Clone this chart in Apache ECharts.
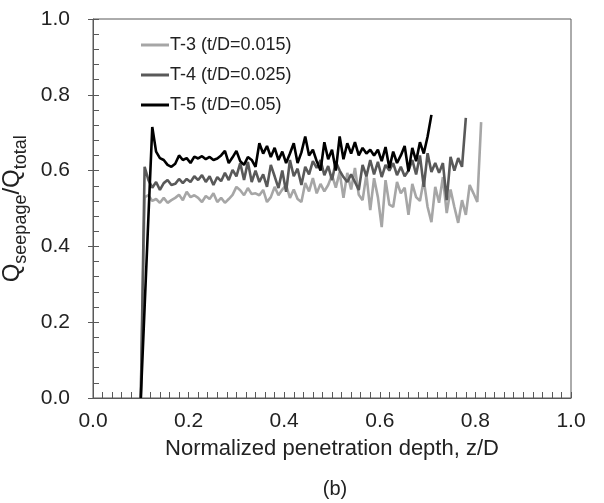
<!DOCTYPE html>
<html>
<head>
<meta charset="utf-8">
<script src="https://cdn.jsdelivr.net/npm/echarts@6/dist/echarts.min.js"></script>
<style>
  html, body { margin: 0; padding: 0; background: #fff; }
  #chart { width: 604px; height: 503px; }
</style>
</head>
<body>
<div id="chart"></div>
<script>
// depth grid shared by all three records (z/D)
const depthStart = 0.1;
const depthStep = 0.008;

const seriesNames = ['T-3 (t/D=0.015)', 'T-4 (t/D=0.025)', 'T-5 (t/D=0.05)'];
const seriesColors = ['#a6a6a6', '#595959', '#000000'];

// Q_seepage / Q_total
const t3Values = [
  0, 0.53, 0.535, 0.52, 0.525, 0.515, 0.528, 0.515, 0.522, 0.528,
  0.536, 0.522, 0.544, 0.53, 0.535, 0.528, 0.517, 0.533, 0.525, 0.54,
  0.517, 0.528, 0.515, 0.525, 0.536, 0.557, 0.548, 0.535, 0.554, 0.538,
  0.54, 0.535, 0.549, 0.517, 0.53, 0.557, 0.535, 0.55, 0.562, 0.528,
  0.55, 0.525, 0.517, 0.567, 0.545, 0.58, 0.54, 0.565, 0.545, 0.562,
  0.588, 0.555, 0.596, 0.528, 0.594, 0.55, 0.607, 0.536, 0.522, 0.59,
  0.496, 0.58, 0.53, 0.451, 0.575, 0.51, 0.504, 0.57, 0.54, 0.555,
  0.483, 0.565, 0.53, 0.52, 0.575, 0.504, 0.464, 0.557, 0.515, 0.583,
  0.488, 0.55, 0.504, 0.462, 0.522, 0.483, 0.562, 0.54, 0.517, 0.728
];

const t4Values = [
  0, 0.61, 0.575, 0.555, 0.57, 0.549, 0.567, 0.575, 0.562, 0.565,
  0.578, 0.567, 0.578, 0.57, 0.585, 0.575, 0.588, 0.57, 0.585, 0.562,
  0.583, 0.572, 0.594, 0.575, 0.602, 0.585, 0.62, 0.575, 0.623, 0.57,
  0.6, 0.57, 0.59, 0.557, 0.615, 0.585, 0.554, 0.6, 0.544, 0.628,
  0.585, 0.605, 0.562, 0.61, 0.59, 0.625, 0.607, 0.628, 0.588, 0.612,
  0.575, 0.623, 0.6, 0.583, 0.57, 0.59, 0.57, 0.549, 0.615, 0.585,
  0.628, 0.59, 0.623, 0.583, 0.615, 0.6, 0.62, 0.588, 0.61, 0.585,
  0.6, 0.628, 0.59, 0.64, 0.557, 0.646, 0.596, 0.62, 0.594, 0.62,
  0.522, 0.636, 0.6, 0.633, 0.61, 0.739
];

const t5Values = [
  0, 0.24, 0.48, 0.715, 0.65, 0.633, 0.628, 0.615, 0.61, 0.618,
  0.64, 0.628, 0.633, 0.62, 0.637, 0.632, 0.638, 0.63, 0.636, 0.628,
  0.632, 0.64, 0.652, 0.62, 0.635, 0.652, 0.625, 0.615, 0.636, 0.628,
  0.61, 0.672, 0.645, 0.665, 0.636, 0.66, 0.628, 0.65, 0.62, 0.645,
  0.672, 0.62, 0.648, 0.69, 0.64, 0.655, 0.625, 0.6, 0.675, 0.63,
  0.655, 0.6, 0.69, 0.63, 0.672, 0.645, 0.675, 0.64, 0.66, 0.645,
  0.655, 0.64, 0.655, 0.625, 0.662, 0.607, 0.65, 0.62, 0.64, 0.665,
  0.598, 0.66, 0.625, 0.675, 0.645, 0.69, 0.747
];

const axisTicks = [0, 0.2, 0.4, 0.6, 0.8, 1.0];

function toPairs(values) {
  return values.map((v, i) => [+(depthStart + i * depthStep).toFixed(3), v]);
}

const font = 'Liberation Sans, Arial, sans-serif';
const axisColor = '#595959';

const chart = echarts.init(document.getElementById('chart'), null, { renderer: 'canvas' });

const baseAxis = {
  type: 'value',
  min: axisTicks[0],
  max: axisTicks[axisTicks.length - 1],
  interval: 0.2,
  splitLine: { show: false },
  axisLine: { show: true, onZero: false, lineStyle: { color: axisColor, width: 1 } }
};

chart.setOption({
  animation: false,
  textStyle: { fontFamily: font },
  grid: {
    left: 93, right: 33, top: 19, bottom: 105,
    outerBoundsMode: 'none',
    containLabel: false,
    show: true, borderColor: axisColor, borderWidth: 1
  },
  title: {
    text: '(b)',
    left: 330, top: 474,
    textAlign: 'center',
    textStyle: { fontFamily: font, fontSize: 20, fontWeight: 'normal', color: '#222' }
  },
  legend: {
    orient: 'vertical',
    left: 136, top: 31,
    icon: 'rect',
    itemWidth: 28, itemHeight: 3,
    itemGap: 12,
    data: seriesNames,
    textStyle: { fontFamily: font, fontSize: 18, lineHeight: 18, color: '#222', padding: [0, 0, 0, -4] }
  },
  xAxis: [
    Object.assign({}, baseAxis, {
      name: 'Normalized penetration depth, z/D',
      nameLocation: 'middle',
      nameGap: 40,
      nameTextStyle: { fontFamily: font, fontSize: 22, color: '#222' },
      axisTick: { show: true, inside: true, length: 6, lineStyle: { color: axisColor } },
      minorTick: { show: true, splitNumber: 10, length: 6, lineStyle: { color: axisColor } },
      axisLabel: { fontFamily: font, fontSize: 21, color: '#222', margin: 13, formatter: v => v.toFixed(1) }
    }),
    Object.assign({}, baseAxis, {
      axisLine: { show: false },
      axisTick: { show: true, inside: false, length: 5, lineStyle: { color: axisColor } },
      axisLabel: { show: false }
    })
  ],
  yAxis: [
    Object.assign({}, baseAxis, {
      // the empty "p" token only sets the line height so the subscripts can sit lower
      name: '{n|Q}{s|seepage}{n|/Q}{s|total}{p| }',
      nameLocation: 'middle',
      nameGap: 45,
      nameRotate: 90,
      nameTextStyle: {
        color: '#222',
        rich: {
          n: { fontFamily: font, fontSize: 24, lineHeight: 24, verticalAlign: 'top', color: '#222' },
          s: { fontFamily: font, fontSize: 18, lineHeight: 18, verticalAlign: 'bottom', color: '#222' },
          p: { fontSize: 2, lineHeight: 30 }
        }
      },
      axisTick: { show: true, inside: true, length: 6, lineStyle: { color: axisColor } },
      minorTick: { show: true, splitNumber: 5, length: 6, lineStyle: { color: axisColor } },
      axisLabel: { fontFamily: font, fontSize: 21, color: '#222', margin: 23, formatter: v => v.toFixed(1) }
    }),
    Object.assign({}, baseAxis, {
      position: 'left',
      axisLine: { show: false },
      axisTick: { show: true, inside: false, length: 5, lineStyle: { color: axisColor } },
      axisLabel: { show: false }
    })
  ],
  series: [t3Values, t4Values, t5Values].map((vals, k) => ({
    name: seriesNames[k],
    type: 'line',
    data: toPairs(vals),
    symbol: 'none',
    smooth: false,
    color: seriesColors[k],
    lineStyle: { color: seriesColors[k], width: 2.6 },
    z: 2 + k
  }))
});
</script>
</body>
</html>
